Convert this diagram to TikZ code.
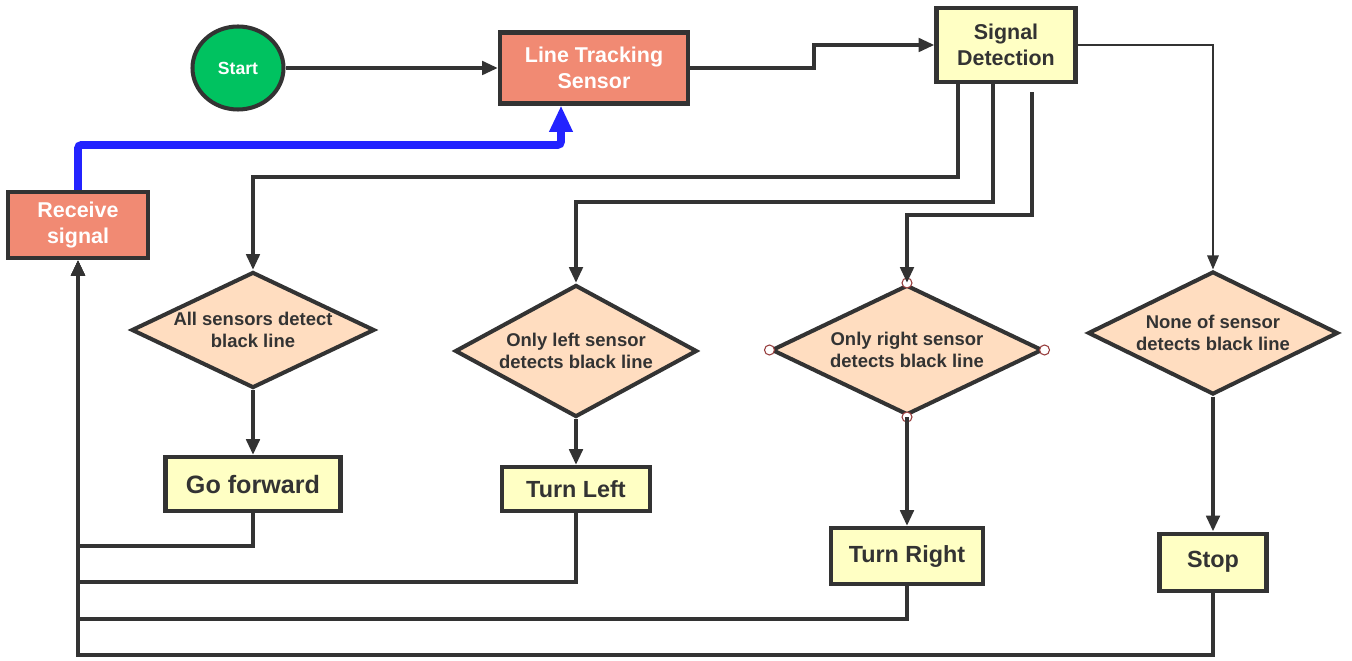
\documentclass[tikz,border=0pt]{standalone}
\usepackage{fontspec}
\setmainfont{Liberation Sans}
\usepackage{xcolor}
\usepackage{tikz}
\usetikzlibrary{shapes.geometric, arrows.meta, positioning, calc}
\definecolor{borde}{RGB}{51,51,51}
\definecolor{verde}{RGB}{0,194,96}
\definecolor{salmon}{RGB}{241,138,115}
\definecolor{crema}{RGB}{255,255,196}
\definecolor{durazno}{RGB}{255,221,192}
\definecolor{azul}{RGB}{35,35,255}
\definecolor{asa}{RGB}{150,60,60}

\begin{document}
\begin{tikzpicture}[
  x=0.2mm, y=-0.2mm,
  inicio/.style={
    ellipse, draw=borde, fill=verde, line width=2.3pt,
    minimum width=18.2mm, minimum height=16.6mm, inner sep=0pt,
    text=white, font=\fontsize{10}{12}\selectfont\bfseries
  },
  senal/.style={
    rectangle, draw=borde, fill=salmon, line width=2.3pt,
    text=white, font=\fontsize{12.2}{15}\selectfont\bfseries,
    align=center, inner sep=0pt
  },
  proceso/.style={
    rectangle, draw=borde, fill=crema, line width=2.3pt,
    text=borde, font=\fontsize{13.3}{16}\selectfont\bfseries,
    align=center, inner sep=0pt
  },
  decision/.style={
    diamond, draw=borde, fill=durazno, line width=2.3pt,
    text=borde, font=\fontsize{10.5}{12.6}\selectfont\bfseries,
    align=center, inner sep=0pt, aspect=2
  },
  asa/.style={circle, draw=asa, fill=white, line width=0.6pt,
    minimum size=2mm, inner sep=0pt},
  flujo/.style={draw=borde, line width=2.3pt,
    -{Triangle[length=9pt,width=7.5pt]}},
  fino/.style={draw=borde, line width=1.1pt,
    -{Triangle[length=8pt,width=6.5pt]}},
  retorno/.style={draw=azul, line width=4.5pt, rounded corners=2pt,
    -{Triangle[length=15pt,width=12.5pt]}}
]
\useasboundingbox[fill=white] (0,0) rectangle (1352,661);

% ── NODOS ────────────────────────────────────────────────────

\node[inicio] (inicio) at (238,68) {Start};
\node[senal, minimum width=37.6mm, minimum height=14.2mm]
  (sensor) at (594,68) {Line Tracking\\Sensor};
\node[proceso, minimum width=27.8mm, minimum height=14.8mm,
  font=\fontsize{12.2}{15}\selectfont\bfseries]
  (deteccion) at (1006,45) {Signal\\Detection};
\node[senal, minimum width=28mm, minimum height=13.2mm]
  (recibir) at (78,225) {Receive\\signal};

\node[decision, minimum width=48.6mm, minimum height=23.2mm]
  (todos) at (253,330) {All sensors detect\\black line};
\node[decision, minimum width=48.4mm, minimum height=26.4mm]
  (izq) at (576,351) {Only left sensor\\detects black line};
\node[decision, minimum width=54.2mm, minimum height=26mm]
  (der) at (907,350) {Only right sensor\\detects black line};
\node[decision, minimum width=50mm, minimum height=24.6mm]
  (ninguno) at (1213,333) {None of sensor\\detects black line};

\node[proceso, below=13mm of todos, minimum width=35mm, minimum height=10.8mm,
  font=\fontsize{14.3}{17}\selectfont\bfseries] (avanzar) {Go forward};
\node[proceso, below=9.2mm of izq, minimum width=29.6mm, minimum height=8.8mm]
  (girar_izq) {Turn Left};
\node[proceso, below=21.8mm of der, minimum width=30.4mm, minimum height=11.2mm]
  (girar_der) {Turn Right};
\node[proceso, below=27mm of ninguno, minimum width=21.4mm, minimum height=11.4mm]
  (parar) {Stop};

% asas de seleccion del rombo
\foreach \a in {north,south,east,west}
  \node[asa] (asa-\a) at (der.\a) {};

% ── FLUJO ─────────────────────────────────────────────────────

% inicio -> sensor
\draw[flujo] (inicio.east) -- (sensor.west);
% sensor -> deteccion
\draw[flujo] (sensor.east) -- ++(124,0) |- (deteccion.west);
% deteccion -> ramas
\draw[flujo] ($(deteccion.south)+(-48,0)$) -- ++(0,93) -| (todos.north);
\draw[flujo] ($(deteccion.south)+(-13,0)$) -- ++(0,118) -| (izq.north);
\draw[flujo] ($(deteccion.south)+(26,8)$)  -- ++(0,123) -| (der.north);
\draw[fino]  (deteccion.east) -| (ninguno.north);
% rombos -> acciones
\draw[flujo] (todos.south)   -- (avanzar.north);
\draw[flujo] (izq.south)     -- (girar_izq.north);
\draw[flujo] (der.south)     -- (girar_der.north);
\draw[flujo] (ninguno.south) -- (parar.north);
% acciones -> recibir
\draw[flujo] (avanzar.south)   -- ++(0,33) -| (recibir.south);
\draw[flujo] (girar_izq.south) -- ++(0,69) -| (recibir.south);
\draw[flujo] (girar_der.south) -- ++(0,33) -| (recibir.south);
\draw[flujo] (parar.south)     -- ++(0,62) -| (recibir.south);
% recibir -> sensor
\draw[retorno] (recibir.north) -- ++(0,-45) -| ($(sensor.south)+(-33,0)$);

\end{tikzpicture}
\end{document}
